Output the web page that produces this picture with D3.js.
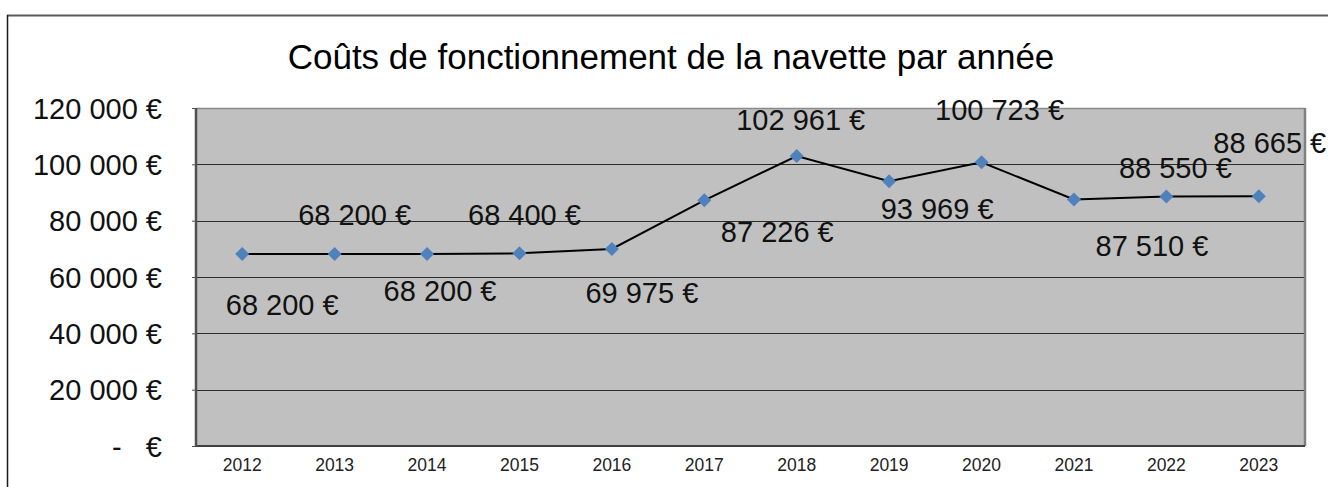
<!DOCTYPE html>
<html>
<head>
<meta charset="utf-8">
<script src="https://cdn.jsdelivr.net/npm/d3@7"></script>
<style>
  body { margin: 0; background: #fff; }
  svg { display: block; font-family: "Liberation Sans", Arial, sans-serif; }
</style>
</head>
<body>
<div id="chart"></div>
<script>
// data
var years = ["2012", "2013", "2014", "2015", "2016", "2017", "2018", "2019", "2020", "2021", "2022", "2023"];
var costs = [68200, 68200, 68200, 68400, 69975, 87226, 102961, 93969, 100723, 87510, 88550, 88665];
var yTicks = [0, 20000, 40000, 60000, 80000, 100000, 120000];
var title = "Coûts de fonctionnement de la navette par année";

// label placement (px offset from each point), as in the original sheet
var labelOffsets = [[40, 51], [20, -39], [13, 37], [5, -38], [30, 44], [73, 32],
                    [4, -36], [48, 28], [18, -52], [78, 46], [9, -29], [11, -53]];

var width = 1328, height = 487;
var margin = {top: 108, right: 23, bottom: 41, left: 196};
var innerW = width - margin.left - margin.right,
    innerH = height - margin.top - margin.bottom;

var svg = d3.select("#chart").append("svg")
    .attr("width", width)
    .attr("height", height);

// outer frame (only top and left visible)
svg.append("line").attr("x1", 7).attr("x2", width).attr("y1", 15.5).attr("y2", 15.5)
   .attr("stroke", "#5a5a5a").attr("stroke-width", 2);
svg.append("line").attr("x1", 7.5).attr("x2", 7.5).attr("y1", 15).attr("y2", height)
   .attr("stroke", "#1a1a1a").attr("stroke-width", 1.5);

svg.append("text")
   .attr("x", 671).attr("y", 56)
   .attr("text-anchor", "middle").attr("dominant-baseline", "central")
   .style("font-size", "35px").style("fill", "#000")
   .text(title);

var g = svg.append("g").attr("transform", "translate(" + margin.left + "," + margin.top + ")");

var x = d3.scaleBand().domain(years).range([0, innerW]);
var y = d3.scaleLinear().domain([0, 120000]).range([innerH, 0]);

g.append("rect").attr("width", innerW).attr("height", innerH)
 .attr("fill", "#c0c0c0");

// gridlines
g.selectAll(".grid").data(yTicks.slice(1, -1)).enter().append("line")
 .attr("class", "grid")
 .attr("x1", 0).attr("x2", innerW)
 .attr("y1", function(d) { return Math.round(y(d)) + 0.5; })
 .attr("y2", function(d) { return Math.round(y(d)) + 0.5; })
 .attr("stroke", "#2b2b2b").attr("stroke-width", 1.2);

// plot frame
g.append("line").attr("x1", 0).attr("x2", innerW).attr("y1", 0.5).attr("y2", 0.5)
 .attr("stroke", "#8a8a8a").attr("stroke-width", 1.5);
g.append("line").attr("x1", innerW).attr("x2", innerW).attr("y1", 0).attr("y2", innerH)
 .attr("stroke", "#808080").attr("stroke-width", 2.5);
g.append("line").attr("x1", 0).attr("x2", innerW).attr("y1", innerH).attr("y2", innerH)
 .attr("stroke", "#404040").attr("stroke-width", 2);
g.append("line").attr("x1", 0).attr("x2", 0).attr("y1", 0).attr("y2", innerH)
 .attr("stroke", "#505050").attr("stroke-width", 2.5);

// y axis
var fmt = function(d) {
  if (d === 0) return "-\u00a0\u00a0\u00a0€";
  return d3.format(",")(d).replace(/,/g, " ") + " €";
};
var yAxis = d3.axisLeft(y).tickValues(yTicks).tickSize(4).tickPadding(30).tickFormat(fmt);
var ya = g.append("g").call(yAxis);
ya.select(".domain").remove();
ya.selectAll(".tick line").attr("stroke", "#505050");
ya.selectAll(".tick text").style("font-size", "29px").style("fill", "#111")
  .style("font-family", "'Liberation Sans', Arial, sans-serif").attr("dy", "0.35em");

// x axis
var xAxis = d3.axisBottom(x).tickSize(0).tickPadding(13);
var xa = g.append("g").attr("transform", "translate(0," + innerH + ")").call(xAxis);
xa.select(".domain").remove();
xa.selectAll(".tick text").style("font-size", "17.5px").style("fill", "#222")
  .style("font-family", "'Liberation Sans', Arial, sans-serif");

// line
var line = d3.line()
  .x(function(d, i) { return x(years[i]) + x.bandwidth() / 2; })
  .y(function(d) { return y(d); });

g.append("path").datum(costs)
 .attr("d", line)
 .attr("fill", "none").attr("stroke", "#000").attr("stroke-width", 2);

// markers
g.selectAll(".pt").data(costs).enter().append("path")
 .attr("class", "pt")
 .attr("d", d3.symbol().type(d3.symbolDiamond2).size(125))
 .attr("transform", function(d, i) {
   return "translate(" + (x(years[i]) + x.bandwidth() / 2) + "," + y(d) + ")";
 })
 .attr("fill", "#4f81bd");

// value labels
g.selectAll(".lbl").data(costs).enter().append("text")
 .attr("class", "lbl")
 .attr("x", function(d, i) { return x(years[i]) + x.bandwidth() / 2 + labelOffsets[i][0]; })
 .attr("y", function(d, i) { return y(d) + labelOffsets[i][1]; })
 .attr("text-anchor", "middle").attr("dominant-baseline", "central")
 .style("font-size", "29px").style("fill", "#111")
 .text(function(d) { return fmt(d); });
</script>
</body>
</html>
